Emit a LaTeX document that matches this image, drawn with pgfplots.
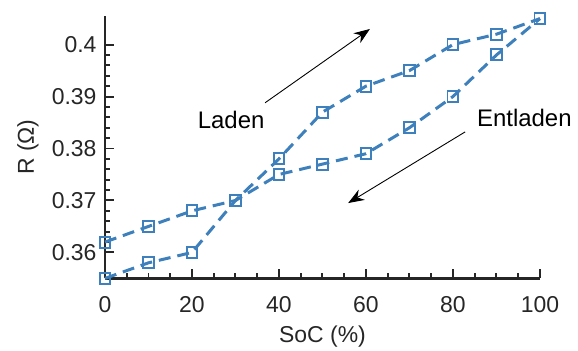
\documentclass[border=0pt]{standalone}
\usepackage{fontspec}
\setmainfont{Liberation Sans}
\usepackage{pgfplots}
\pgfplotsset{compat=1.18}
\usetikzlibrary{arrows.meta}
\definecolor{lineblue}{RGB}{62,128,188}
\definecolor{axisgray}{RGB}{38,38,38}
\begin{document}
\begin{tikzpicture}
\begin{axis}[
  scale only axis,
  width=436pt, height=263pt,
  xmin=0, xmax=100, ymin=0.355, ymax=0.4055,
  axis lines=left,
  axis line style={-, line width=2.5pt, axisgray},
  tick align=inside,
  major tick length=0.32cm, minor tick length=0.18cm,
  tick style={line width=2pt, axisgray},
  xtick={0,20,40,60,80,100},
  xticklabels={0,20,40,60,80,100},
  minor x tick num=3,
  ytick={0.36,0.37,0.38,0.39,0.4},
  yticklabels={0.36,0.37,0.38,0.39,0.4},
  minor y tick num=4,
  tick label style={font=\fontsize{23}{27}\selectfont, color=axisgray},
  xticklabel style={yshift=-15pt},
  yticklabel style={xshift=-5pt},
  label style={font=\fontsize{23}{27}\selectfont, color=axisgray},
  xlabel={SoC (\%)},
  ylabel={R (Ω)},
  xlabel style={at={(rel axis cs:0.5,-0.222)}, anchor=center},
  ylabel style={at={(rel axis cs:-0.177,0.5)}, anchor=center},
  clip=false,
]
\addplot[color=lineblue, line width=3pt, dash pattern=on 12pt off 7pt,
  mark=square, mark size=5.5pt, mark options={solid, line width=2pt}]
  coordinates {(0,0.355) (10,0.358) (20,0.360) (30,0.370) (40,0.378) (50,0.387) (60,0.392) (70,0.395) (80,0.400) (90,0.402) (100,0.405)};
\addplot[color=lineblue, line width=3pt, dash pattern=on 12pt off 7pt,
  mark=square, mark size=5.5pt, mark options={solid, line width=2pt}]
  coordinates {(0,0.362) (10,0.365) (20,0.368) (30,0.370) (40,0.375) (50,0.377) (60,0.379) (70,0.384) (80,0.390) (90,0.398) (100,0.405)};
\node[font=\fontsize{24}{28}\selectfont, anchor=center] at (axis cs:29,0.3855) {Laden};
\node[font=\fontsize{24}{28}\selectfont, anchor=center] at (axis cs:96.4,0.3859) {Entladen};
\draw[line width=0.9pt, -{Stealth[length=16pt,width=12pt]}] (axis cs:36.8,0.3888) -- (axis cs:60.9,0.4030);
\draw[line width=0.9pt, -{Stealth[length=16pt,width=12pt]}] (axis cs:82.8,0.3832) -- (axis cs:55.9,0.3695);
\path[draw=none] (rel axis cs:-0.2414,-0.271) rectangle (rel axis cs:1.0874,1.061);
\end{axis}
\end{tikzpicture}
\end{document}
